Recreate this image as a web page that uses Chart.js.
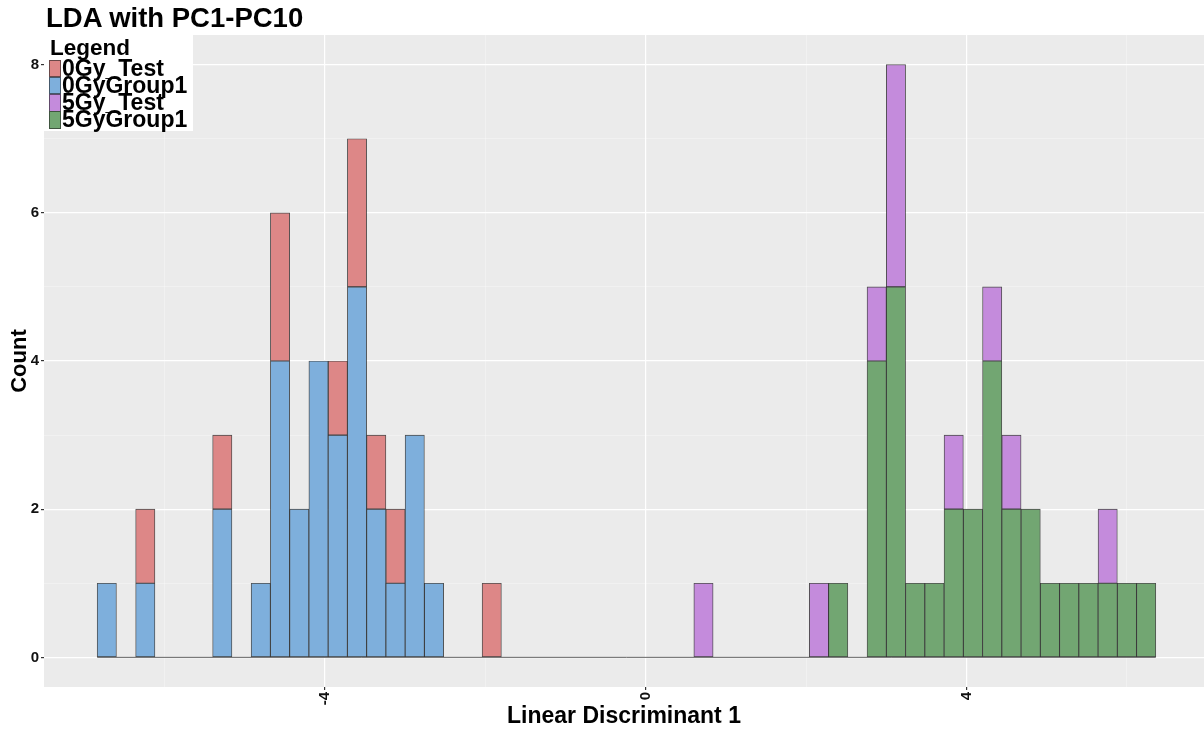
<!DOCTYPE html>
<html lang="en">

<head>
    <meta charset="UTF-8">
    <title>LDA with PC1-PC10</title>
    <script src="https://cdn.jsdelivr.net/npm/chart.js"></script>
    <style>
        body {
            margin: 0;
            background-color: #ffffff;
            font-family: 'Liberation Sans', Arial, sans-serif;
        }

        .chart-wrap {
            position: relative;
            width: 1204px;
            height: 731px;
            overflow: hidden;
        }

        .plot-title {
            position: absolute;
            left: 46px;
            top: 3px;
            font-size: 27.5px;
            line-height: 30px;
            font-weight: bold;
            color: #000;
            white-space: nowrap;
        }

        .legend-box {
            position: absolute;
            left: 44px;
            top: 35px;
            width: 149px;
            height: 96px;
            background-color: #ffffff;
        }

        .legend-box .legend-title {
            position: absolute;
            left: 6px;
            top: 1px;
            font-size: 22.5px;
            line-height: 24px;
            font-weight: bold;
        }

        .legend-box .legend-row {
            position: absolute;
            left: 5px;
            height: 17.3px;
            white-space: nowrap;
        }

        .legend-box .key {
            position: absolute;
            left: 0;
            top: 0;
            width: 10px;
            height: 15.6px;
            border: 0.8px solid rgba(30, 30, 30, 0.6);
        }

        .legend-box .label {
            position: absolute;
            left: 13px;
            top: 0;
            font-size: 23px;
            line-height: 17.3px;
            font-weight: bold;
            color: #000;
        }
    </style>
</head>

<body>

    <div class="chart-wrap">
        <canvas id="histChart"></canvas>
        <div class="plot-title">LDA with PC1-PC10</div>
        <div class="legend-box" id="legendBox">
            <div class="legend-title">Legend</div>
        </div>
    </div>

    <script>
        // bin centres (bin width 0.24)
        const binCenters = [
            -6.72, -6.48, -6.24, -6.00, -5.76, -5.52, -5.28, -5.04, -4.80, -4.56,
            -4.32, -4.08, -3.84, -3.60, -3.36, -3.12, -2.88, -2.64, -2.40, -2.16,
            -1.92, -1.68, -1.44, -1.20, -0.96, -0.72, -0.48, -0.24, 0.00, 0.24,
            0.48, 0.72, 0.96, 1.20, 1.44, 1.68, 1.92, 2.16, 2.40, 2.64,
            2.88, 3.12, 3.36, 3.60, 3.84, 4.08, 4.32, 4.56, 4.80, 5.04,
            5.28, 5.52, 5.76, 6.00, 6.24
        ];
        // outer edges of the histogram (zero line)
        const binEdges = [-6.84, 6.36];

        const gy0Test = [
            0, 0, 1, 0, 0, 0, 1, 0, 0, 2,
            0, 0, 1, 2, 1, 1, 0, 0, 0, 0,
            1, 0, 0, 0, 0, 0, 0, 0, 0, 0,
            0, 0, 0, 0, 0, 0, 0, 0, 0, 0,
            0, 0, 0, 0, 0, 0, 0, 0, 0, 0,
            0, 0, 0, 0, 0
        ];
        const gy0Group1 = [
            1, 0, 1, 0, 0, 0, 2, 0, 1, 4,
            2, 4, 3, 5, 2, 1, 3, 1, 0, 0,
            0, 0, 0, 0, 0, 0, 0, 0, 0, 0,
            0, 0, 0, 0, 0, 0, 0, 0, 0, 0,
            0, 0, 0, 0, 0, 0, 0, 0, 0, 0,
            0, 0, 0, 0, 0
        ];
        const gy5Test = [
            0, 0, 0, 0, 0, 0, 0, 0, 0, 0,
            0, 0, 0, 0, 0, 0, 0, 0, 0, 0,
            0, 0, 0, 0, 0, 0, 0, 0, 0, 0,
            0, 1, 0, 0, 0, 0, 0, 1, 0, 0,
            1, 3, 0, 0, 1, 0, 1, 1, 0, 0,
            0, 0, 1, 0, 0
        ];
        const gy5Group1 = [
            0, 0, 0, 0, 0, 0, 0, 0, 0, 0,
            0, 0, 0, 0, 0, 0, 0, 0, 0, 0,
            0, 0, 0, 0, 0, 0, 0, 0, 0, 0,
            0, 0, 0, 0, 0, 0, 0, 0, 1, 0,
            4, 5, 1, 1, 2, 2, 4, 2, 2, 1,
            1, 1, 1, 1, 1
        ];

        const seriesNames = ['0Gy_Test', '0GyGroup1', '5Gy_Test', '5GyGroup1'];
        const seriesColors = ['#DD8787', '#7EAFDC', '#C48BDC', '#72A672'];

        const xMajorTicks = [-4, 0, 4];
        const xMinorTicks = [-6, -2, 2, 6];
        const yMajorTicks = [0, 2, 4, 6, 8];
        const yMinorTicks = [1, 3, 5, 7];

        const FONT = "'Liberation Sans', Arial, sans-serif";
        const BAR_BORDER = 'rgba(20, 20, 20, 0.75)';

        // legend drawn over the top-left corner of the panel
        function buildLegend() {
            const box = document.getElementById('legendBox');
            seriesNames.forEach((name, i) => {
                const row = document.createElement('div');
                row.className = 'legend-row';
                row.style.top = (24.5 + i * 17.3) + 'px';
                const key = document.createElement('div');
                key.className = 'key';
                key.style.backgroundColor = seriesColors[i];
                const label = document.createElement('div');
                label.className = 'label';
                label.textContent = name;
                row.appendChild(key);
                row.appendChild(label);
                box.appendChild(row);
            });
        }

        function toPoints(counts) {
            return counts.map((c, i) => ({ x: binCenters[i], y: c }));
        }

        function barSet(idx, counts) {
            return {
                type: 'bar',
                label: seriesNames[idx],
                data: toPoints(counts),
                backgroundColor: seriesColors[idx],
                borderColor: BAR_BORDER,
                borderWidth: 0.9,
                borderSkipped: false,
                barPercentage: 1,
                categoryPercentage: 1
            };
        }

        function isMajor(c, list) {
            return !!(c && c.tick && list.includes(c.tick.value));
        }

        // grey panel background
        const panelBg = {
            id: 'panelBg',
            beforeDraw(chart) {
                const { ctx, chartArea: a } = chart;
                ctx.save();
                ctx.fillStyle = '#EBEBEB';
                ctx.fillRect(a.left, a.top, a.right - a.left, a.bottom - a.top);
                ctx.restore();
            }
        };

        function renderChart() {
            const ctx = document.getElementById('histChart').getContext('2d');
            new Chart(ctx, {
                data: {
                    datasets: [
                        // stacked bottom-up like ggplot: 5GyGroup1, 5Gy_Test, 0GyGroup1, 0Gy_Test
                        barSet(3, gy5Group1),
                        barSet(2, gy5Test),
                        barSet(1, gy0Group1),
                        barSet(0, gy0Test),
                        {
                            type: 'line',
                            label: 'zero',
                            data: [{ x: binEdges[0], y: 0 }, { x: binEdges[1], y: 0 }],
                            borderColor: 'rgba(60, 60, 60, 0.8)',
                            borderWidth: 1,
                            pointRadius: 0
                        }
                    ]
                },
                options: {
                    responsive: true,
                    maintainAspectRatio: false,
                    animation: false,
                    layout: {
                        padding: { top: 35, left: 0, right: 0, bottom: 0 }
                    },
                    plugins: {
                        legend: { display: false },
                        title: { display: false },
                        tooltip: { enabled: false }
                    },
                    scales: {
                        x: {
                            type: 'linear',
                            stacked: true,
                            offset: false,
                            min: -7.503,
                            max: 6.961,
                            afterBuildTicks: (scale) => {
                                scale.ticks = xMinorTicks.concat(xMajorTicks)
                                    .sort((a, b) => a - b)
                                    .map(v => ({ value: v }));
                            },
                            afterFit: (scale) => { scale.height = 44; },
                            ticks: {
                                autoSkip: false,
                                minRotation: 90,
                                maxRotation: 90,
                                padding: 2,
                                color: '#111',
                                font: { family: FONT, size: 15, weight: 'bold' },
                                callback: (v) => xMajorTicks.includes(v) ? String(v) : ''
                            },
                            grid: {
                                offset: false,
                                color: (c) => isMajor(c, xMajorTicks) ? '#ffffff' : 'rgba(255,255,255,0.55)',
                                lineWidth: (c) => isMajor(c, xMajorTicks) ? 1.2 : 0.6,
                                tickColor: (c) => isMajor(c, xMajorTicks) ? '#333' : 'rgba(0,0,0,0)',
                                tickLength: 3,
                                drawTicks: true
                            },
                            border: { display: false },
                            title: {
                                display: true,
                                text: 'Linear Discriminant 1',
                                color: '#000',
                                font: { family: FONT, size: 23, weight: 'bold' },
                                padding: { top: 0, bottom: 1 }
                            }
                        },
                        y: {
                            stacked: true,
                            min: -0.4,
                            max: 8.4,
                            afterBuildTicks: (scale) => {
                                scale.ticks = yMajorTicks.concat(yMinorTicks)
                                    .sort((a, b) => a - b)
                                    .map(v => ({ value: v }));
                            },
                            afterFit: (scale) => { scale.width = 44; },
                            ticks: {
                                padding: 2,
                                color: '#111',
                                font: { family: FONT, size: 15, weight: 'bold' },
                                callback: (v) => yMajorTicks.includes(v) ? String(v) : ''
                            },
                            grid: {
                                color: (c) => isMajor(c, yMajorTicks) ? '#ffffff' : 'rgba(255,255,255,0.55)',
                                lineWidth: (c) => isMajor(c, yMajorTicks) ? 1.2 : 0.6,
                                tickColor: (c) => isMajor(c, yMajorTicks) ? '#333' : 'rgba(0,0,0,0)',
                                tickLength: 3,
                                drawTicks: true
                            },
                            border: { display: false },
                            title: {
                                display: true,
                                text: 'Count',
                                color: '#000',
                                font: { family: FONT, size: 22, weight: 'bold' },
                                padding: { top: 7, bottom: 0 }
                            }
                        }
                    }
                },
                plugins: [panelBg]
            });
        }

        buildLegend();
        renderChart();
    </script>

</body>

</html>
